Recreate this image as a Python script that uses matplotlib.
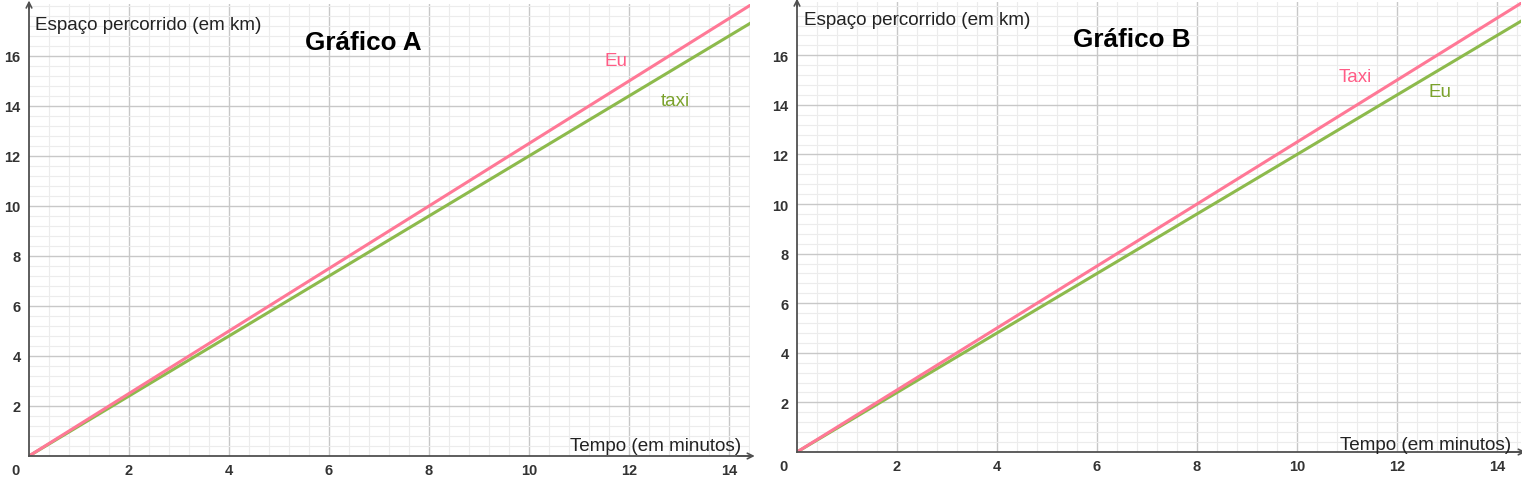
import numpy as np
import matplotlib.pyplot as plt
from matplotlib.ticker import MultipleLocator

plt.rcParams['font.family'] = ['Liberation Sans', 'DejaVu Sans']

# ------------------------------------------------------------
# DATA
# ------------------------------------------------------------

tempo = [0, 15]

# Grafico A
eu_a = [0, 18.75]
taxi_a = [0, 18.0]

# Grafico B
taxi_b = [0, 18.75]
eu_b = [0, 18.0]

x_ticks = [2, 4, 6, 8, 10, 12, 14]
y_ticks = [2, 4, 6, 8, 10, 12, 14, 16]

PINK = "#ff7896"
GREEN = "#8dba4c"
PINK_TXT = "#ff5c86"
GREEN_TXT = "#7ba22c"

W, H = 1522, 481

fig = plt.figure(figsize=(W / 100, H / 100), dpi=100)


def make_panel(rect, xmax, ymax):

    left, right, top, bottom = rect
    ax = fig.add_axes([left / W, 1 - bottom / H, (right - left) / W, (bottom - top) / H])

    ax.set_xlim(0, xmax)
    ax.set_ylim(0, ymax)

    ax.set_xticks(x_ticks)
    ax.set_yticks(y_ticks)
    ax.set_xticks(np.arange(0.4, xmax, 0.4), minor=True)
    ax.set_yticks(np.arange(0.4, ymax, 0.4), minor=True)

    ax.grid(which="major", color="#c8c8c8", linewidth=1.0)
    ax.grid(which="minor", color="#ececec", linewidth=0.8)
    ax.set_axisbelow(True)

    ax.tick_params(which="both", length=0)
    ax.tick_params(axis="x", pad=5)
    ax.tick_params(axis="y", pad=6)
    for lab in ax.get_xticklabels() + ax.get_yticklabels():
        lab.set_fontsize(10.5)
        lab.set_fontweight("bold")
        lab.set_color("#333333")

    for s in ["top", "right"]:
        ax.spines[s].set_visible(False)
    for s in ["left", "bottom"]:
        ax.spines[s].set_color("#505050")
        ax.spines[s].set_linewidth(1.3)

    ax.text(-0.18, -0.3, "0", ha="right", va="top", fontsize=10.5,
            fontweight="bold", color="#333333", clip_on=False)

    # axis arrows
    ax.annotate("", xy=(0, ymax + 0.25), xytext=(0, ymax - 0.3),
                arrowprops=dict(arrowstyle="->", color="#505050", lw=1.2),
                annotation_clip=False)
    ax.annotate("", xy=(xmax + 0.15, 0), xytext=(xmax - 0.3, 0),
                arrowprops=dict(arrowstyle="->", color="#505050", lw=1.2),
                annotation_clip=False)

    return ax


# ------------------------------------------------------------
# GRAFICO A
# ------------------------------------------------------------

ax1 = make_panel((29, 750, 5, 457), 14.42, 18.08)

ax1.plot(tempo, taxi_a, color=GREEN, linewidth=2.2, solid_capstyle="butt")
ax1.plot(tempo, eu_a, color=PINK, linewidth=2.2, solid_capstyle="butt")

ax1.text(11.74, 15.8, "Eu", color=PINK_TXT, fontsize=13.5, ha="center", va="center")
ax1.text(12.92, 14.2, "taxi", color=GREEN_TXT, fontsize=13.5, ha="center", va="center")

ax1.text(0.12, 17.28, "Espaço percorrido (em km)", fontsize=13.6,
         color="#222222", ha="left", va="center")
ax1.text(14.24, 0.24, "Tempo (em minutos)", fontsize=13.6,
         color="#222222", ha="right", va="baseline")
ax1.text(6.68, 16.28, "Gráfico A", fontsize=18.8, fontweight="bold",
         color="black", ha="center", va="baseline")

# ------------------------------------------------------------
# GRAFICO B
# ------------------------------------------------------------

ax2 = make_panel((797, 1521, 3, 453), 14.48, 18.15)

ax2.plot(tempo, eu_b, color=GREEN, linewidth=2.2, solid_capstyle="butt")
ax2.plot(tempo, taxi_b, color=PINK, linewidth=2.2, solid_capstyle="butt")

ax2.text(11.16, 15.16, "Taxi", color=PINK_TXT, fontsize=13.5, ha="center", va="center")
ax2.text(12.86, 14.56, "Eu", color=GREEN_TXT, fontsize=13.5, ha="center", va="center")

ax2.text(0.14, 17.46, "Espaço percorrido (em km)", fontsize=13.6,
         color="#222222", ha="left", va="center")
ax2.text(14.28, 0.12, "Tempo (em minutos)", fontsize=13.6,
         color="#222222", ha="right", va="baseline")
ax2.text(6.7, 16.37, "Gráfico B", fontsize=18.8, fontweight="bold",
         color="black", ha="center", va="baseline")

fig.savefig("out.png", dpi=100)
